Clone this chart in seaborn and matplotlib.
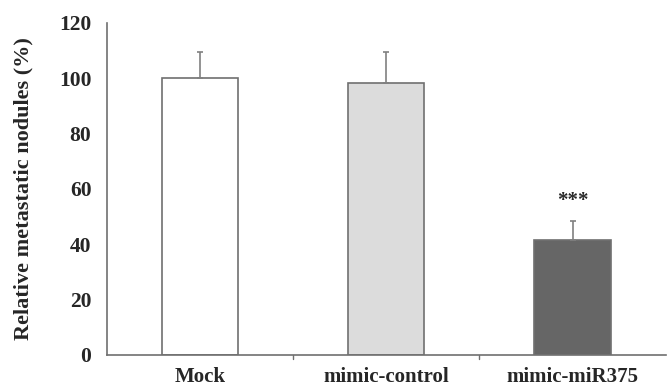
import matplotlib
matplotlib.use("Agg")
import matplotlib.pyplot as plt
import seaborn as sns
import pandas as pd

groups = ["Mock", "mimic-control", "mimic-miR375"]
values = [100.0, 98.3, 41.5]
errors = [9.3, 11.0, 7.0]
colors = ["#ffffff", "#dcdcdc", "#666666"]

sns.set_theme(style="white")
plt.rcParams["font.family"] = ["Liberation Serif", "DejaVu Serif"]
plt.rcParams["font.weight"] = "bold"

df = pd.DataFrame({"group": groups, "value": values})

fig = plt.figure(figsize=(6.67, 3.86), dpi=100)
ax = fig.add_axes([0.160, 0.081, 0.838, 0.860])

sns.barplot(data=df, x="group", y="value", hue="group", palette=colors,
            width=0.41, errorbar=None, legend=False, ax=ax,
            edgecolor="#707070", linewidth=1.2)

# upper error bars only
ax.errorbar(range(len(groups)), values, yerr=[[0] * len(errors), errors],
            fmt="none", ecolor="#808080", elinewidth=1.2, capsize=2.5,
            capthick=1.2, zorder=1)

ax.text(2, values[2] + errors[2] + 3.5, "***", ha="center", va="bottom",
        fontsize=15, fontweight="bold")

ax.set_ylim(0, 120)
ax.set_xlim(-0.5, 2.5)
ax.set_yticks(range(0, 121, 20))
ax.set_xticks([0, 1, 2])
ax.set_xticklabels(groups, fontsize=15, fontweight="bold")
ax.tick_params(axis="x", length=0, pad=9)
ax.tick_params(axis="y", length=5, width=1, color="#707070", labelsize=15.5, pad=6)
for lab in ax.get_yticklabels():
    lab.set_fontweight("bold")

# category boundary ticks on x axis
for xb in [0.5, 1.5]:
    ax.plot([xb, xb], [0, -1.6], color="#707070", lw=1, clip_on=False)

ax.set_xlabel("")
ax.set_ylabel("Relative metastatic nodules (%)", fontsize=16, fontweight="bold", labelpad=18)

sns.despine(ax=ax)
for s in ["left", "bottom"]:
    ax.spines[s].set_color("#707070")
    ax.spines[s].set_linewidth(1.2)

fig.savefig("out.png", dpi=100)
